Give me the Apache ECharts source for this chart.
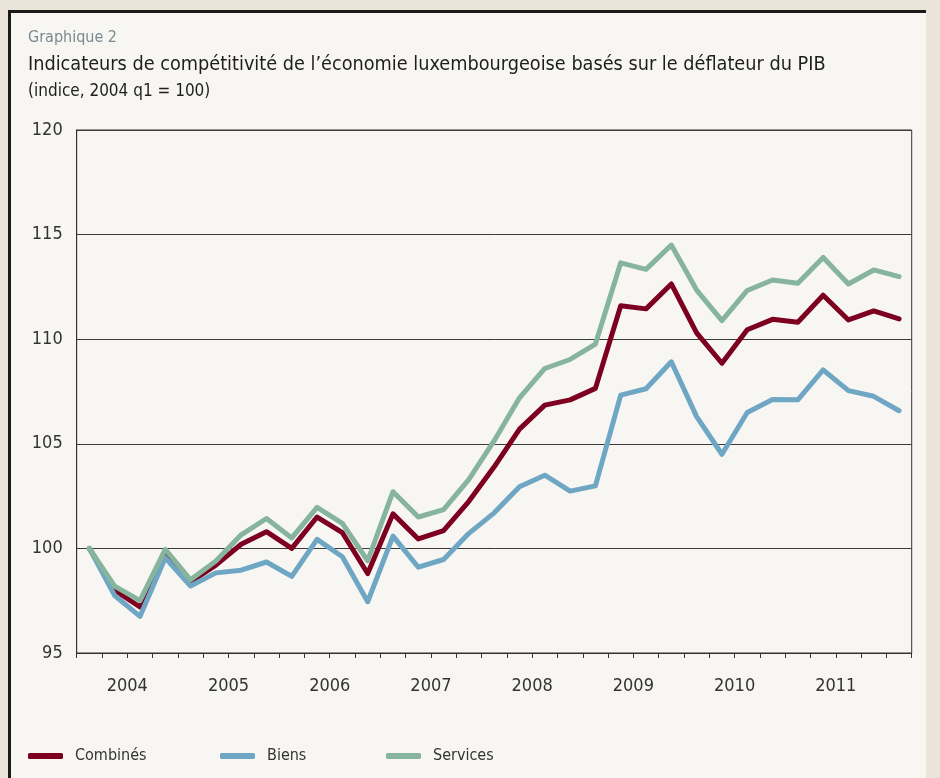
<!DOCTYPE html>
<html>
<head>
<meta charset="utf-8">
<script src="https://cdn.jsdelivr.net/npm/echarts@6/dist/echarts.min.js"></script>
<style>
html,body{margin:0;padding:0;background:#ebe5d9;}
#chart{width:940px;height:778px;}
</style>
</head>
<body>
<div id="chart"></div>
<script>
var quarters = ['2004 q1','2004 q2','2004 q3','2004 q4','2005 q1','2005 q2','2005 q3','2005 q4',
  '2006 q1','2006 q2','2006 q3','2006 q4','2007 q1','2007 q2','2007 q3','2007 q4',
  '2008 q1','2008 q2','2008 q3','2008 q4','2009 q1','2009 q2','2009 q3','2009 q4',
  '2010 q1','2010 q2','2010 q3','2010 q4','2011 q1','2011 q2','2011 q3','2011 q4','2012 q1'];
var yearLabels = ['2004','2005','2006','2007','2008','2009','2010','2011'];
var yTicks = [95, 100, 105, 110, 115, 120];

var combines = [100, 98.0, 97.2, 99.9, 98.4, 99.2, 100.2, 100.8, 100.0, 101.5, 100.75, 98.8,
  101.65, 100.45, 100.85, 102.25, 103.9, 105.7, 106.85, 107.1, 107.65, 111.6, 111.45, 112.64,
  110.3, 108.85, 110.45, 110.95, 110.81, 112.1, 110.92, 111.35, 110.97];
var biens = [100, 97.75, 96.75, 99.55, 98.2, 98.83, 98.96, 99.35, 98.66, 100.43, 99.6, 97.45,
  100.59, 99.1, 99.47, 100.72, 101.7, 102.95, 103.5, 102.74, 102.99, 107.33, 107.63, 108.92,
  106.3, 104.5, 106.5, 107.12, 107.1, 108.53, 107.54, 107.27, 106.58];
var services = [100, 98.2, 97.5, 99.95, 98.5, 99.4, 100.65, 101.43, 100.5, 101.96, 101.2, 99.41,
  102.71, 101.5, 101.85, 103.3, 105.15, 107.2, 108.6, 109.03, 109.77, 113.65, 113.34, 114.5,
  112.35, 110.89, 112.33, 112.83, 112.67, 113.91, 112.64, 113.31, 112.99];

var FONT = '"Liberation Sans Narrow","DejaVu Sans Condensed","Roboto",sans-serif';
var legendText = {fontFamily: FONT, fontSize: 16, color: '#333', padding:[0,0,0,7]};
function legendFor(name, left) {
  return {left: left, top: 743, itemWidth: 35, itemHeight: 6, icon: 'roundRect',
    textStyle: legendText, data: [name]};
}
var chart = echarts.init(document.getElementById('chart'));
chart.setOption({
  backgroundColor: '#ebe5d9',
  animation: false,
  graphic: [
    {type:'rect', z:-10, shape:{x:8, y:10, width:918, height:780}, style:{fill:'#f7f6f2'}},
    {type:'rect', z:-9, shape:{x:8, y:10, width:918, height:3}, style:{fill:'#1a1a1a'}},
    {type:'rect', z:-9, shape:{x:8, y:10, width:3, height:780}, style:{fill:'#1a1a1a'}}
  ],
  title: [
    {text:'Graphique 2', left:23, top:25, textStyle:{fontFamily:FONT, fontSize:16, fontWeight:'normal', color:'#7b8a90'}},
    {text:'Indicateurs de compétitivité de l’économie luxembourgeoise basés sur le déflateur du PIB', left:23, top:50,
      textStyle:{fontFamily:FONT, fontSize:19.7, fontWeight:'normal', color:'#1e1e1e'}},
    {text:'(indice, 2004 q1 = 100)', left:23, top:78, textStyle:{fontFamily:FONT, fontSize:17, fontWeight:'normal', color:'#1e1e1e'}}
  ],
  legend: [legendFor('Combinés', 23), legendFor('Biens', 215), legendFor('Services', 381)],
  grid: {left: 76.7, right: 28.3, top: 130, bottom: 125, show: true, borderColor: '#333', borderWidth: 1, backgroundColor:'transparent'},
  xAxis: [
    {type:'category', data: quarters, boundaryGap: true,
      axisLine:{lineStyle:{color:'#333', width:1}},
      axisTick:{show:true, interval:0, length:5, lineStyle:{color:'#333'}},
      axisLabel:{show:false, interval:0}, splitLine:{show:false}},
    {type:'value', min:0, max:33, interval:2, position:'bottom',
      axisLine:{show:false}, axisTick:{show:false}, splitLine:{show:false},
      axisLabel:{show:true, margin:24, fontFamily:FONT, fontSize:18, color:'#333',
        showMaxLabel:false, showMinLabel:false,
        formatter: function(v){ var k=(v-2)/4; return (k>=0 && k===Math.floor(k) && k<yearLabels.length) ? yearLabels[k] : ''; }}}
  ],
  yAxis: {type:'value', min: yTicks[0], max: yTicks[yTicks.length-1], interval: 5,
    axisLine:{show:true, lineStyle:{color:'#333'}}, axisTick:{show:false},
    axisLabel:{fontFamily:FONT, fontSize:18, color:'#333', margin:14},
    splitLine:{show:true, lineStyle:{color:'#3a3a3a', width:1}}},
  series: [
    {name:'Combinés', type:'line', data: combines, symbol:'none', color:'#7d0020',
      lineStyle:{width:5, color:'#7d0020', join:'round', cap:'round'}},
    {name:'Biens', type:'line', data: biens, symbol:'none', color:'#6fa6c4',
      lineStyle:{width:5, color:'#6fa6c4', join:'round', cap:'round'}},
    {name:'Services', type:'line', data: services, symbol:'none', color:'#86b49d',
      lineStyle:{width:5, color:'#86b49d', join:'round', cap:'round'}}
  ]
});
</script>
</body>
</html>
